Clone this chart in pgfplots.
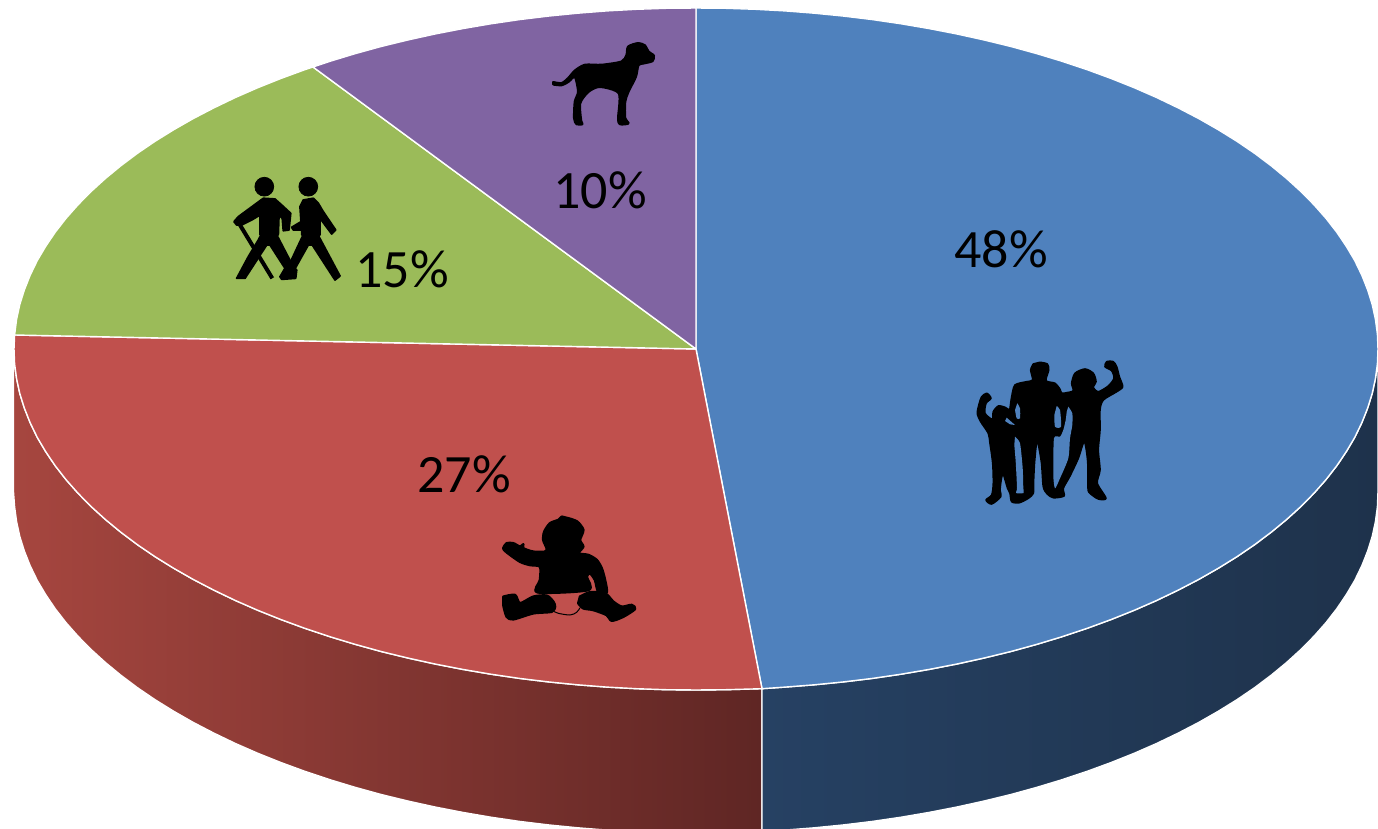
\documentclass[border=0pt]{standalone}
\usepackage{pgfplots}
\usepackage{fontspec}
\setmainfont{Carlito}
\pgfplotsset{compat=1.18}
\definecolor{pblue}{HTML}{4F81BD}
\definecolor{pred}{HTML}{C0504D}
\definecolor{pgreen}{HTML}{9BBB59}
\definecolor{ppurple}{HTML}{8064A2}
\definecolor{sred1}{HTML}{A6463F}
\definecolor{sred2}{HTML}{5F2624}
\definecolor{sblue1}{HTML}{264163}
\definecolor{sblue2}{HTML}{1E324B}
\begin{document}
\begin{tikzpicture}
\useasboundingbox (0,0) rectangle (689pt,414.5pt);
\begin{axis}[
  at={(0,0)}, anchor=south west,
  scale only axis, width=689pt, height=414.5pt,
  xmin=0, xmax=1378, ymin=0, ymax=829, y dir=reverse,
  axis lines=none, clip=true,
  every axis plot/.append style={line join=round},
  icon/.style={draw=black, fill=black, line width=0.8pt, smooth, tension=0.45},
  fat icon/.style={draw=black, fill=black, line width=1.3pt, smooth, tension=0.45},
  stick icon/.style={draw=black, fill=black, line width=0.9pt},
]
% side walls
\addplot[draw=white, line width=0.7pt, left color=sred1, right color=sred2] coordinates {
(13.5,349)(14.6,363.9)(16.6,378.7)(19.8,393.5)(24.4,408.2)(30.2,422.8)(37.2,437.3)(45.6,451.5)(55.1,465.6)(65.9,479.5)(77.9,493.1)(91.1,506.5)(105.4,519.5)(120.8,532.2)(137.3,544.6)(154.9,556.6)(173.6,568.2)(193.2,579.4)(213.8,590.1)(235.2,600.4)(257.6,610.2)(280.8,619.5)(304.8,628.3)(329.6,636.6)(355,644.3)(381.1,651.5)(407.8,658)(435,664)(462.8,669.4)(490.9,674.2)(519.5,678.4)(548.4,681.9)(577.6,684.8)(607,687.1)(636.5,688.7)(666.2,689.7)(696,690)(725.8,689.7)(762,688.7)
(762,832)(725.8,832.7)(696,833)(666.2,832.7)(636.5,831.7)(607,830.1)(577.6,827.8)(548.4,824.9)(519.5,821.4)(490.9,817.2)(462.8,812.4)(435,807)(407.8,801)(381.1,794.5)(355,787.3)(329.6,779.6)(304.8,771.3)(280.8,762.5)(257.6,753.2)(235.2,743.4)(213.8,733.1)(193.2,722.4)(173.6,711.2)(154.9,699.6)(137.3,687.6)(120.8,675.2)(105.4,662.5)(91.1,649.5)(77.9,636.1)(65.9,622.5)(55.1,608.6)(45.6,594.5)(37.2,580.3)(30.2,565.8)(24.4,551.2)(19.8,536.5)(16.6,521.7)(14.6,506.9)(13.5,492)
} --cycle;
\addplot[draw=white, line width=0.7pt, left color=sblue1, right color=sblue2] coordinates {
(762,688.7)(785,687.1)(814.4,684.8)(843.6,681.9)(872.5,678.4)(901.1,674.2)(929.2,669.4)(957,664)(984.2,658)(1010.9,651.5)(1037,644.3)(1062.4,636.6)(1087.2,628.3)(1111.2,619.5)(1134.4,610.2)(1156.8,600.4)(1178.2,590.1)(1198.8,579.4)(1218.4,568.2)(1237.1,556.6)(1254.7,544.6)(1271.2,532.2)(1286.6,519.5)(1300.9,506.5)(1314.1,493.1)(1326.1,479.5)(1336.9,465.6)(1346.4,451.5)(1354.8,437.3)(1361.8,422.8)(1367.6,408.2)(1372.2,393.5)(1375.4,378.7)(1377.4,363.9)(1378,349)
(1378,492)(1377.4,506.9)(1375.4,521.7)(1372.2,536.5)(1367.6,551.2)(1361.8,565.8)(1354.8,580.3)(1346.4,594.5)(1336.9,608.6)(1326.1,622.5)(1314.1,636.1)(1300.9,649.5)(1286.6,662.5)(1271.2,675.2)(1254.7,687.6)(1237.1,699.6)(1218.4,711.2)(1198.8,722.4)(1178.2,733.1)(1156.8,743.4)(1134.4,753.2)(1111.2,762.5)(1087.2,771.3)(1062.4,779.6)(1037,787.3)(1010.9,794.5)(984.2,801)(957,807)(929.2,812.4)(901.1,817.2)(872.5,821.4)(843.6,824.9)(814.4,827.8)(785,830.1)(762,832)
} --cycle;
% top slices
\addplot[draw=white, line width=0.7pt, fill=pblue] coordinates {
(696,349)(696,8)(725.8,8.3)(755.5,9.3)(785,10.9)(814.4,13.2)(843.6,16.1)(872.5,19.6)(901.1,23.8)(929.2,28.6)(957,34)(984.2,40)(1010.9,46.5)(1037,53.7)(1062.4,61.4)(1087.2,69.7)(1111.2,78.5)(1134.4,87.8)(1156.8,97.6)(1178.2,107.9)(1198.8,118.6)(1218.4,129.8)(1237.1,141.4)(1254.7,153.4)(1271.2,165.8)(1286.6,178.5)(1300.9,191.5)(1314.1,204.9)(1326.1,218.5)(1336.9,232.4)(1346.4,246.5)(1354.8,260.7)(1361.8,275.2)(1367.6,289.8)(1372.2,304.5)(1375.4,319.3)(1377.4,334.1)(1378,349)
(1377.4,363.9)(1375.4,378.7)(1372.2,393.5)(1367.6,408.2)(1361.8,422.8)(1354.8,437.3)(1346.4,451.5)(1336.9,465.6)(1326.1,479.5)(1314.1,493.1)(1300.9,506.5)(1286.6,519.5)(1271.2,532.2)(1254.7,544.6)(1237.1,556.6)(1218.4,568.2)(1198.8,579.4)(1178.2,590.1)(1156.8,600.4)(1134.4,610.2)(1111.2,619.5)(1087.2,628.3)(1062.4,636.6)(1037,644.3)(1010.9,651.5)(984.2,658)(957,664)(929.2,669.4)(901.1,674.2)(872.5,678.4)(843.6,681.9)(814.4,684.8)(785,687.1)(762,688.7)
} --cycle;
\addplot[draw=white, line width=0.7pt, fill=pred] coordinates {
(696,349)(762,688.7)(725.8,689.7)(696,690)(666.2,689.7)(636.5,688.7)(607,687.1)(577.6,684.8)(548.4,681.9)(519.5,678.4)(490.9,674.2)(462.8,669.4)(435,664)(407.8,658)(381.1,651.5)(355,644.3)(329.6,636.6)(304.8,628.3)(280.8,619.5)(257.6,610.2)(235.2,600.4)(213.8,590.1)(193.2,579.4)(173.6,568.2)(154.9,556.6)(137.3,544.6)(120.8,532.2)(105.4,519.5)(91.1,506.5)(77.9,493.1)(65.9,479.5)(55.1,465.6)(45.6,451.5)(37.2,437.3)(30.2,422.8)(24.4,408.2)(19.8,393.5)(16.6,378.7)(14.6,363.9)(14,349)(14.6,335)
} --cycle;
\addplot[draw=white, line width=0.7pt, fill=pgreen] coordinates {
(696,349)(14.6,335)(16.6,319.3)(19.8,304.5)(24.4,289.8)(30.2,275.2)(37.2,260.7)(45.6,246.5)(55.1,232.4)(65.9,218.5)(77.9,204.9)(91.1,191.5)(105.4,178.5)(120.8,165.8)(137.3,153.4)(154.9,141.4)(173.6,129.8)(193.2,118.6)(213.8,107.9)(235.2,97.6)(257.6,87.8)(280.8,78.5)(304.8,69.7)(313,67)
} --cycle;
\addplot[draw=white, line width=0.7pt, fill=ppurple] coordinates {
(696,349)(313,67)(329.6,61.4)(355,53.7)(381.1,46.5)(407.8,40)(435,34)(462.8,28.6)(490.9,23.8)(519.5,19.6)(548.4,16.1)(577.6,13.2)(607,10.9)(636.5,9.3)(666.2,8.3)(696,8)
} --cycle;
% family
\addplot[icon] coordinates {
(1040,362.3)(1047.3,364)(1048.7,370)(1046,380.7)(1055,383.3)(1060,389.3)(1061.7,393.3)(1066.7,392.7)(1073.3,390.7)(1071.7,383.3)(1075,373.3)(1085,369)(1093.3,373.3)(1096,381.7)(1093.3,387.3)(1098.3,391.7)(1108.3,386)(1114,378.3)(1111.7,370.7)(1105,366.7)(1106.7,361.7)(1113.3,361.7)(1116.7,366.7)(1119.3,376.7)(1122.7,386.7)(1116.7,391.7)(1103.3,400)(1100,410)(1100,430)(1098.3,450)(1100,470)(1097.3,483.3)(1106,498.3)(1098.3,499)(1090,493.3)(1088,488.3)(1087.7,461.7)(1084.3,441.7)(1078.3,458.3)(1070,476)(1063.3,488.3)(1064,496)(1053.3,497.7)(1047.3,494)(1043.3,486.7)(1041.5,463)(1038,443)(1036.5,443)(1034.5,463)(1033.5,483.3)(1033.3,493.3)(1028.3,498.3)(1019.3,502.7)(1011.7,501.7)(1010,493.3)(1007.5,488)(1003.3,474.3)(1001.5,478)(1000,490)(1000.7,496.7)(991.7,504)(986,500)(991.7,495)(993.3,483.3)(992.7,463.3)(990,443.3)(988.3,433.3)(980.7,421.7)(977.3,413.3)(979.3,403.3)(981.7,396.7)(986.7,393.3)(991,398.3)(986,403.3)(985,413.3)(992.3,419.3)(993.3,411.7)(998.3,406)(1005,407.3)(1009.3,410)(1010,408.3)(1011.7,396.7)(1015,385)(1026.7,381.7)(1032.7,380)(1030.7,370)(1033.3,364)
} --cycle;
\addplot[draw=none, fill=pblue, smooth, tension=0.4] coordinates {
(1068.3,406.7)(1072.3,413.3)(1072.3,425)(1070,438.3)(1068.3,458.3)(1060,478.3)(1055,488.3)(1053.3,475)(1054,438.3)(1060,436.7)(1063.3,430)(1065.7,420)(1066.7,411.7)
} --cycle;
\addplot[draw=none, fill=pblue, smooth, tension=0.4] coordinates {
(1056.7,406)(1060,410)(1061,426.7)(1055,426.7)(1054.3,415)
} --cycle;
\addplot[draw=none, fill=pblue, smooth, tension=0.4] coordinates {
(1017.3,403.3)(1020,408.3)(1020,418.3)(1016.7,418.3)(1015,410)
} --cycle;
\addplot[draw=none, fill=pblue] coordinates {
(1006.7,417.7)(1015,425)(1010,424.3)(1005,421)
} --cycle;
\addplot[draw=none, fill=pblue, smooth, tension=0.4] coordinates {
(1015,436.7)(1020,443.3)(1022.7,468.3)(1023.3,488)(1023.5,493)(1016,493)(1017,488)(1015.7,461.7)(1014.3,445)
} --cycle;
% baby
\addplot[fat icon] coordinates {
(561.7,516.7)(558.3,520)(550,523.3)(544.3,531.7)(543.3,540)(546.7,548.3)(545,551.7)(533.3,551.7)(523.3,548.3)(523.3,544.3)(520,546.7)(513.3,543.3)(506.7,543.3)(503.3,548.3)(506.7,552.3)(520,561.7)(530,565)(540,566.7)(540,580)(537.7,592.3)(588.3,590)(586.7,576.7)(590,573.3)(595,580)(598.3,591.7)(606.7,592.3)(605,580)(601.7,568.3)(596.7,560)(588.3,555)(578.3,553.3)(583.3,546.7)(580,540)(583.3,530)(577.3,521.7)(568.3,518.3)
} --cycle;
\addplot[fat icon] coordinates {
(503.3,596.7)(515,595)(520,603.3)(533.3,596.7)(546.7,595.7)(553.3,601.7)(555,606.7)(551.7,611.7)(533.3,613.3)(513.3,619.3)(506.7,616.7)(503.3,605)
} --cycle;
\addplot[fat icon] coordinates {
(580,596.7)(590,592.3)(605,593.3)(613.3,601.7)(621.7,606.7)(631.7,605)(635,609)(623.3,616.7)(611.7,620.7)(606.7,615)(593.3,610)(583.3,608.3)(578.3,603.3)
} --cycle;
\addplot[draw=black, line width=0.5pt, smooth] coordinates {(553.3,611)(558.3,613.3)(570,615)(576.7,612.3)(580,607.7)};
% walkers
\addplot[only marks, mark=*, mark size=4.7pt, mark options={draw=black, fill=black}] coordinates {(264.3,186.7)(308.3,186.7)};
\addplot[stick icon] coordinates {
(263.3,198.3)(275,199)(281.7,205)(290.7,213.3)(289,230)(283.3,230.7)(282.3,218.3)(279,215)(278.3,235)(260,235)(260,215)(251.7,220)(241.7,225)(236.7,225)(234,221.7)(238.3,216.7)
} --cycle;
\addplot[stick icon] coordinates {
(260,236.7)(277.7,236.7)(293.3,266.7)(296.7,270)(295.7,278.3)(281.7,279.3)(280,276.7)(285,268.3)(270,245)(266.7,245)(245,278.3)(236.7,278.3)(248.3,256.7)(258.3,240)
} --cycle;
\addplot[draw=black, line width=2pt] coordinates {(240,225)(272.3,278.3)};
\addplot[stick icon] coordinates {
(303.3,200)(313.3,198.3)(318.3,203.3)(323.3,211.7)(335.7,230)(331.7,234)(320,218.3)(320,235)(301.7,235)(301.7,230)(293.3,230)(291.7,227.3)(301,221.7)(300,206.7)
} --cycle;
\addplot[stick icon] coordinates {
(302.3,236.7)(319,236.7)(340,276)(335,280)(312.3,245)(308.3,245)(293.3,271.7)(286.7,270)
} --cycle;
% dog
\addplot[fat icon] coordinates {
(553.3,82.3)(561.7,83.3)(568.3,78.3)(575,70.7)(585,65)(601.7,65)(621.7,61.7)(626.7,55)(628.3,46.7)(638.3,43.3)(645,45.7)(648.3,51.7)(653.7,55.7)(652.3,61)(643.3,63.3)(638.3,65)(635.7,76.7)(628.3,91.7)(625,101.7)(625,118.3)(628.3,123.3)(620,124)(618.3,118.3)(619,93.3)(600,86.7)(588.3,91.7)(580,103.3)(581,121)(582.3,124)(576.7,124)(574.3,118.3)(575,101.7)(578.3,91.7)(575,76.7)(568.3,81.7)(561.7,85)(553.3,84.3)
} --cycle;
% labels
\node[font=\fontsize{27}{31}\selectfont, text=black] at (axis cs:1001,249) {48\%};
\node[font=\fontsize{27}{31}\selectfont, text=black] at (axis cs:600,190) {10\%};
\node[font=\fontsize{27}{31}\selectfont, text=black] at (axis cs:402,269) {15\%};
\node[font=\fontsize{27}{31}\selectfont, text=black] at (axis cs:464,474) {27\%};
\end{axis}
\end{tikzpicture}
\end{document}
